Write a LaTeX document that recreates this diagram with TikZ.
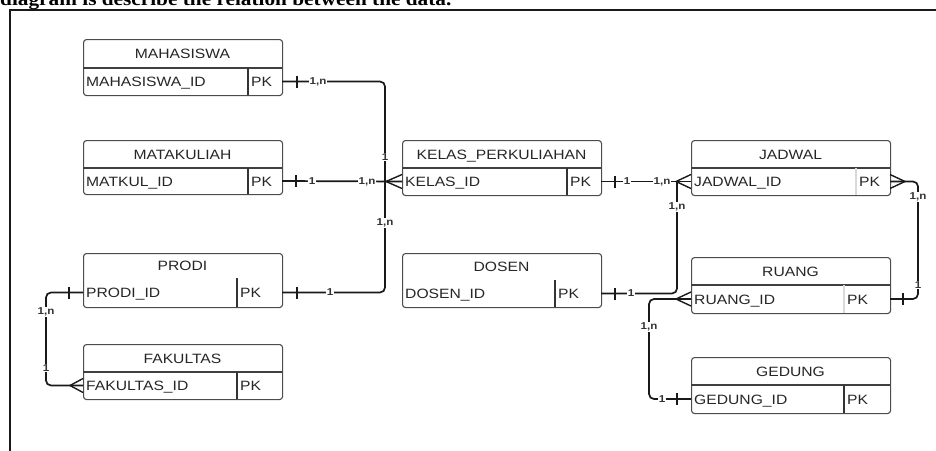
\documentclass[tikz,border=0pt]{standalone}
\usepackage{fontspec}
\newfontfamily\erfont[FakeStretch=1.16]{Liberation Sans}
\newfontfamily\topfont[FakeStretch=1.12]{Liberation Serif}
\usetikzlibrary{calc}
\colorlet{pkc}{black!80}
\tikzset{
  ebox/.style={draw=black!70, line width=1.1pt, rounded corners=3pt, fill=white, inner sep=0pt},
  divline/.style={draw=black!75, line width=1.1pt},
  nodiv/.style={draw=none},
  pkline/.style={draw=pkc, line width=1.1pt},
  etitle/.style={font=\erfont\fontsize{13.5}{14}\selectfont, text=black!85, inner sep=0pt},
  ekey/.style={font=\erfont\fontsize{13.5}{14}\selectfont, text=black!85, inner sep=0pt},
  conn/.style={draw=black!90, line width=1.7pt, rounded corners=5pt},
  tick/.style={draw=black!90, line width=1.4pt},
  lbl/.style={font=\erfont\bfseries\fontsize{10}{10}\selectfont, text=black!80, fill=white, inner sep=0.6pt},
  frame/.style={draw=black!90, line width=2pt}
}
% #1 name, #2 x, #3 top, #4 bottom, #5 divider y, #6 pk x, #7 title, #8 key, #9 divider style
\newcommand\erent[9]{%
  \node[ebox, anchor=north west, minimum width=199pt, minimum height={(#4-#3)*1pt}] (#1) at (#2,#3) {};
  \draw[#9] (#2,#5) -- ++(199,0);
  \draw[pkline] (#6,#5) -- (#6,#4);
  \node[etitle, anchor=base] (#1-title) at ({#2+99.5},{(#3+#5)/2+5}) {#7};
  \node[ekey, anchor=base west] (#1-key) at ({#2+3},{(#5+#4)/2+5}) {#8};
  \node[ekey, anchor=base west] (#1-pk) at ({#6+3},{(#5+#4)/2+5}) {PK};
  \coordinate (#1-L) at (#2,{(#5+#4)/2});
  \coordinate (#1-R) at ({#2+199},{(#5+#4)/2});
}
\begin{document}
\begin{tikzpicture}[x=1pt,y=-1pt]
\useasboundingbox (0,0) rectangle (936,450);
\node[anchor=base west, inner sep=0pt, font=\topfont\bfseries\fontsize{19}{19}\selectfont] (caption) at (0,5) {diagram is describe the relation between the data.};
\draw[frame] (10,451) -- (10,10) -- (937,10);

% entities
\erent{mah}{83}{39}{95}{68}{248}{MAHASISWA}{MAHASISWA\_ID}{divline}
\erent{mat}{83}{140}{194}{168}{248}{MATAKULIAH}{MATKUL\_ID}{divline}
\erent{pro}{83}{253}{307}{278}{237}{PRODI}{PRODI\_ID}{nodiv}
\erent{fak}{83}{344}{399}{372}{237}{FAKULTAS}{FAKULTAS\_ID}{divline}
\erent{kel}{402}{140}{195}{168}{567}{KELAS\_PERKULIAHAN}{KELAS\_ID}{divline}
\erent{dos}{402}{253}{307}{280}{555}{DOSEN}{DOSEN\_ID}{nodiv}
\colorlet{pkc}{black!15}
\erent{jad}{691}{140}{195}{168}{856}{JADWAL}{JADWAL\_ID}{divline}
\erent{rua}{691}{257}{313}{285}{844}{RUANG}{RUANG\_ID}{divline}
\colorlet{pkc}{black!80}
\erent{ged}{691}{357}{413}{385}{844}{GEDUNG}{GEDUNG\_ID}{divline}

% junction coordinates
\coordinate (jk) at (385,181.5);
\coordinate (jj) at (677,181.5);

% connectors
\draw[conn] (mah-R) -| (jk);
\draw[conn] (pro-R) -| (jk);
\draw[conn] (mat-R) -- (kel-L);
\draw[conn] (kel-R) -- (jad-L);
\draw[conn] (dos-R) -| (jj);
\draw[conn] (jad-R) -- ++(14,0) -- ++(14,0) |- (rua-R);
\draw[conn] (rua-L) -- ++(-42,0) |- (ged-L);
\draw[conn] (pro-L) -- ++(-37,0) |- (fak-L);

% bars (one)
\draw[tick] ($(mah-R)+(15,-6)$) -- ++(0,12);
\draw[tick] ($(mat-R)+(14,-6)$) -- ++(0,12);
\draw[tick] ($(pro-R)+(15,-6)$) -- ++(0,12);
\draw[tick] ($(kel-R)+(14,-6)$) -- ++(0,12);
\draw[tick] ($(dos-R)+(14,-6)$) -- ++(0,12);
\draw[tick] ($(rua-R)+(13,-6)$) -- ++(0,12);
\draw[tick] ($(ged-L)+(-14,-6)$) -- ++(0,12);
\draw[tick] ($(pro-L)+(-14,-6)$) -- ++(0,12);

% crow's feet (many)
\draw[tick] ($(kel-L)+(-16,0)$) -- ($(kel-L)+(0,-7)$) ($(kel-L)+(-16,0)$) -- ($(kel-L)+(0,7)$);
\draw[tick] ($(jad-L)+(-15,0)$) -- ($(jad-L)+(0,-7)$) ($(jad-L)+(-15,0)$) -- ($(jad-L)+(0,7)$);
\draw[tick] ($(jad-R)+(15,0)$) -- ($(jad-R)+(0,-7)$) ($(jad-R)+(15,0)$) -- ($(jad-R)+(0,7)$);
\draw[tick] ($(rua-L)+(-15,0)$) -- ($(rua-L)+(0,-7)$) ($(rua-L)+(-15,0)$) -- ($(rua-L)+(0,7)$);
\draw[tick] ($(fak-L)+(-13,0)$) -- ($(fak-L)+(0,-7)$) ($(fak-L)+(-13,0)$) -- ($(fak-L)+(0,7)$);

% cardinality labels
\node[lbl] (l1) at (318,81.5) {1,n};
\node[lbl] (l2) at (385,157) {1};
\node[lbl] (l3) at (312,181.5) {1};
\node[lbl] (l4) at (367,181.5) {1,n};
\node[lbl] (l5) at (330,292.5) {1};
\node[lbl] (l6) at (385,223) {1,n};
\node[lbl] (l7) at (627,181.5) {1};
\node[lbl] (l8) at (662,181.5) {1,n};
\node[lbl] (l9) at (631,293.5) {1};
\node[lbl] (l10) at (677,207) {1,n};
\node[lbl] (l11) at (918,197) {1,n};
\node[lbl] (l12) at (918,285) {1};
\node[lbl] (l13) at (649,327) {1,n};
\node[lbl] (l14) at (662,399) {1};
\node[lbl] (l15) at (46,312) {1,n};
\node[lbl] (l16) at (46,368) {1};
\end{tikzpicture}
\end{document}
